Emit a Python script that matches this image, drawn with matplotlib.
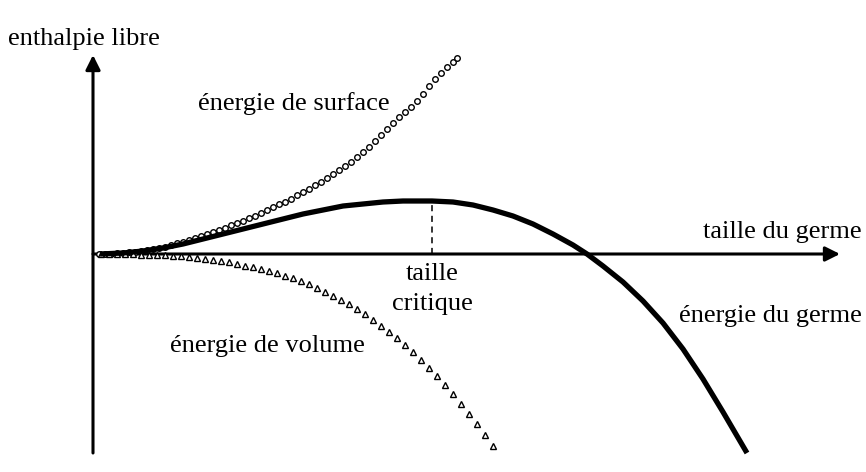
import matplotlib.pyplot as plt
import numpy as np

plt.rcParams['font.family'] = ['Liberation Serif', 'DejaVu Serif']

# energie de surface (cercles)
surf_x = [0.06, 0.12, 0.18, 0.24, 0.30, 0.36, 0.42, 0.48, 0.54, 0.60,
          0.66, 0.72, 0.78, 0.84, 0.90, 0.96, 1.02, 1.08, 1.14, 1.20,
          1.26, 1.32, 1.38, 1.44, 1.50, 1.56, 1.62, 1.68, 1.74, 1.80,
          1.86, 1.92, 1.98, 2.04, 2.10, 2.16, 2.22, 2.28, 2.34, 2.40,
          2.46, 2.52, 2.58, 2.64, 2.70, 2.76, 2.82, 2.88, 2.94, 3.00,
          3.06, 3.12, 3.18, 3.24, 3.30, 3.36, 3.42, 3.48, 3.54, 3.60, 3.64]
surf_y = [0.00, 0.00, 0.00, 0.01, 0.01, 0.02, 0.02, 0.03, 0.04, 0.05,
          0.06, 0.07, 0.09, 0.11, 0.12, 0.14, 0.16, 0.18, 0.20, 0.22,
          0.24, 0.26, 0.29, 0.31, 0.33, 0.36, 0.38, 0.41, 0.44, 0.47,
          0.50, 0.52, 0.55, 0.59, 0.62, 0.65, 0.69, 0.72, 0.76, 0.80,
          0.84, 0.88, 0.92, 0.97, 1.02, 1.07, 1.13, 1.19, 1.25, 1.31,
          1.37, 1.42, 1.47, 1.53, 1.60, 1.68, 1.75, 1.81, 1.87, 1.92, 1.96]

# energie de volume (triangles)
vol_x = [0.08, 0.16, 0.24, 0.32, 0.40, 0.48, 0.56, 0.64, 0.72, 0.80,
         0.88, 0.96, 1.04, 1.12, 1.20, 1.28, 1.36, 1.44, 1.52, 1.60,
         1.68, 1.76, 1.84, 1.92, 2.00, 2.08, 2.16, 2.24, 2.32, 2.40,
         2.48, 2.56, 2.64, 2.72, 2.80, 2.88, 2.96, 3.04, 3.12, 3.20,
         3.28, 3.36, 3.44, 3.52, 3.60, 3.68, 3.76, 3.84, 3.92, 4.00]
vol_y = [0.00, 0.00, 0.00, 0.00, 0.00, -0.01, -0.01, -0.01, -0.01, -0.02,
         -0.02, -0.03, -0.04, -0.05, -0.06, -0.07, -0.08, -0.10, -0.12, -0.13,
         -0.15, -0.17, -0.19, -0.22, -0.24, -0.27, -0.30, -0.34, -0.38, -0.42,
         -0.46, -0.50, -0.55, -0.60, -0.66, -0.72, -0.78, -0.84, -0.91, -0.98,
         -1.06, -1.14, -1.22, -1.31, -1.40, -1.50, -1.60, -1.70, -1.81, -1.92]

# energie du germe (trait gras)
germe_x = [0.07, 0.30, 0.50, 0.70, 0.90, 1.10, 1.30, 1.50, 1.70, 1.90,
           2.10, 2.30, 2.50, 2.70, 2.90, 3.10, 3.39, 3.60, 3.80, 4.00,
           4.20, 4.40, 4.60, 4.80, 4.94, 5.10, 5.30, 5.50, 5.70, 5.90,
           6.10, 6.30, 6.54]
germe_y = [0.00, 0.01, 0.03, 0.06, 0.10, 0.15, 0.20, 0.25, 0.30, 0.35,
           0.40, 0.44, 0.48, 0.50, 0.52, 0.53, 0.53, 0.52, 0.49, 0.44,
           0.38, 0.30, 0.20, 0.09, 0.00, -0.12, -0.28, -0.47, -0.69, -0.95,
           -1.25, -1.58, -1.99]

r_crit = 3.39
g_crit = 0.53

fig = plt.figure(figsize=(8.66, 4.72), dpi=100)
ax = fig.add_axes([0, 0, 1, 1])
ax.set_xlim(-0.93, 7.73)
ax.set_ylim(-2.18, 2.54)
ax.axis('off')

# axes avec fleches
ax.annotate('', xy=(0, 1.99), xytext=(0, -1.99),
            arrowprops=dict(arrowstyle='-|>', lw=2.2, color='black',
                            mutation_scale=22, shrinkA=0, shrinkB=0))
ax.annotate('', xy=(7.47, 0), xytext=(0, 0),
            arrowprops=dict(arrowstyle='-|>', lw=2.2, color='black',
                            mutation_scale=22, shrinkA=0, shrinkB=0))

ax.plot(surf_x, surf_y, linestyle='none', marker='o', markersize=4,
        markerfacecolor='white', markeredgecolor='black', markeredgewidth=1.0, zorder=3)
ax.plot(vol_x, vol_y, linestyle='none', marker='^', markersize=4.5,
        markerfacecolor='white', markeredgecolor='black', markeredgewidth=1.0, zorder=3)
ax.plot(germe_x, germe_y, color='black', lw=3.8, solid_capstyle='butt',
        solid_joinstyle='round', zorder=4)

ax.plot([r_crit, r_crit], [0, g_crit], color='black', lw=1.1, linestyle=(0, (4, 3)))

fs = 19
ax.text(-0.85, 2.09, 'enthalpie libre', fontsize=fs, ha='left', va='baseline')
ax.text(1.05, 1.44, 'énergie de surface', fontsize=fs, ha='left', va='baseline')
ax.text(7.69, 0.16, 'taille du germe', fontsize=fs, ha='right', va='baseline')
ax.text(r_crit, -0.26, 'taille', fontsize=fs, ha='center', va='baseline')
ax.text(r_crit, -0.56, 'critique', fontsize=fs, ha='center', va='baseline')
ax.text(7.69, -0.68, 'énergie du germe', fontsize=fs, ha='right', va='baseline')
ax.text(0.77, -0.98, 'énergie de volume', fontsize=fs, ha='left', va='baseline')

fig.savefig('out.png', dpi=100)
